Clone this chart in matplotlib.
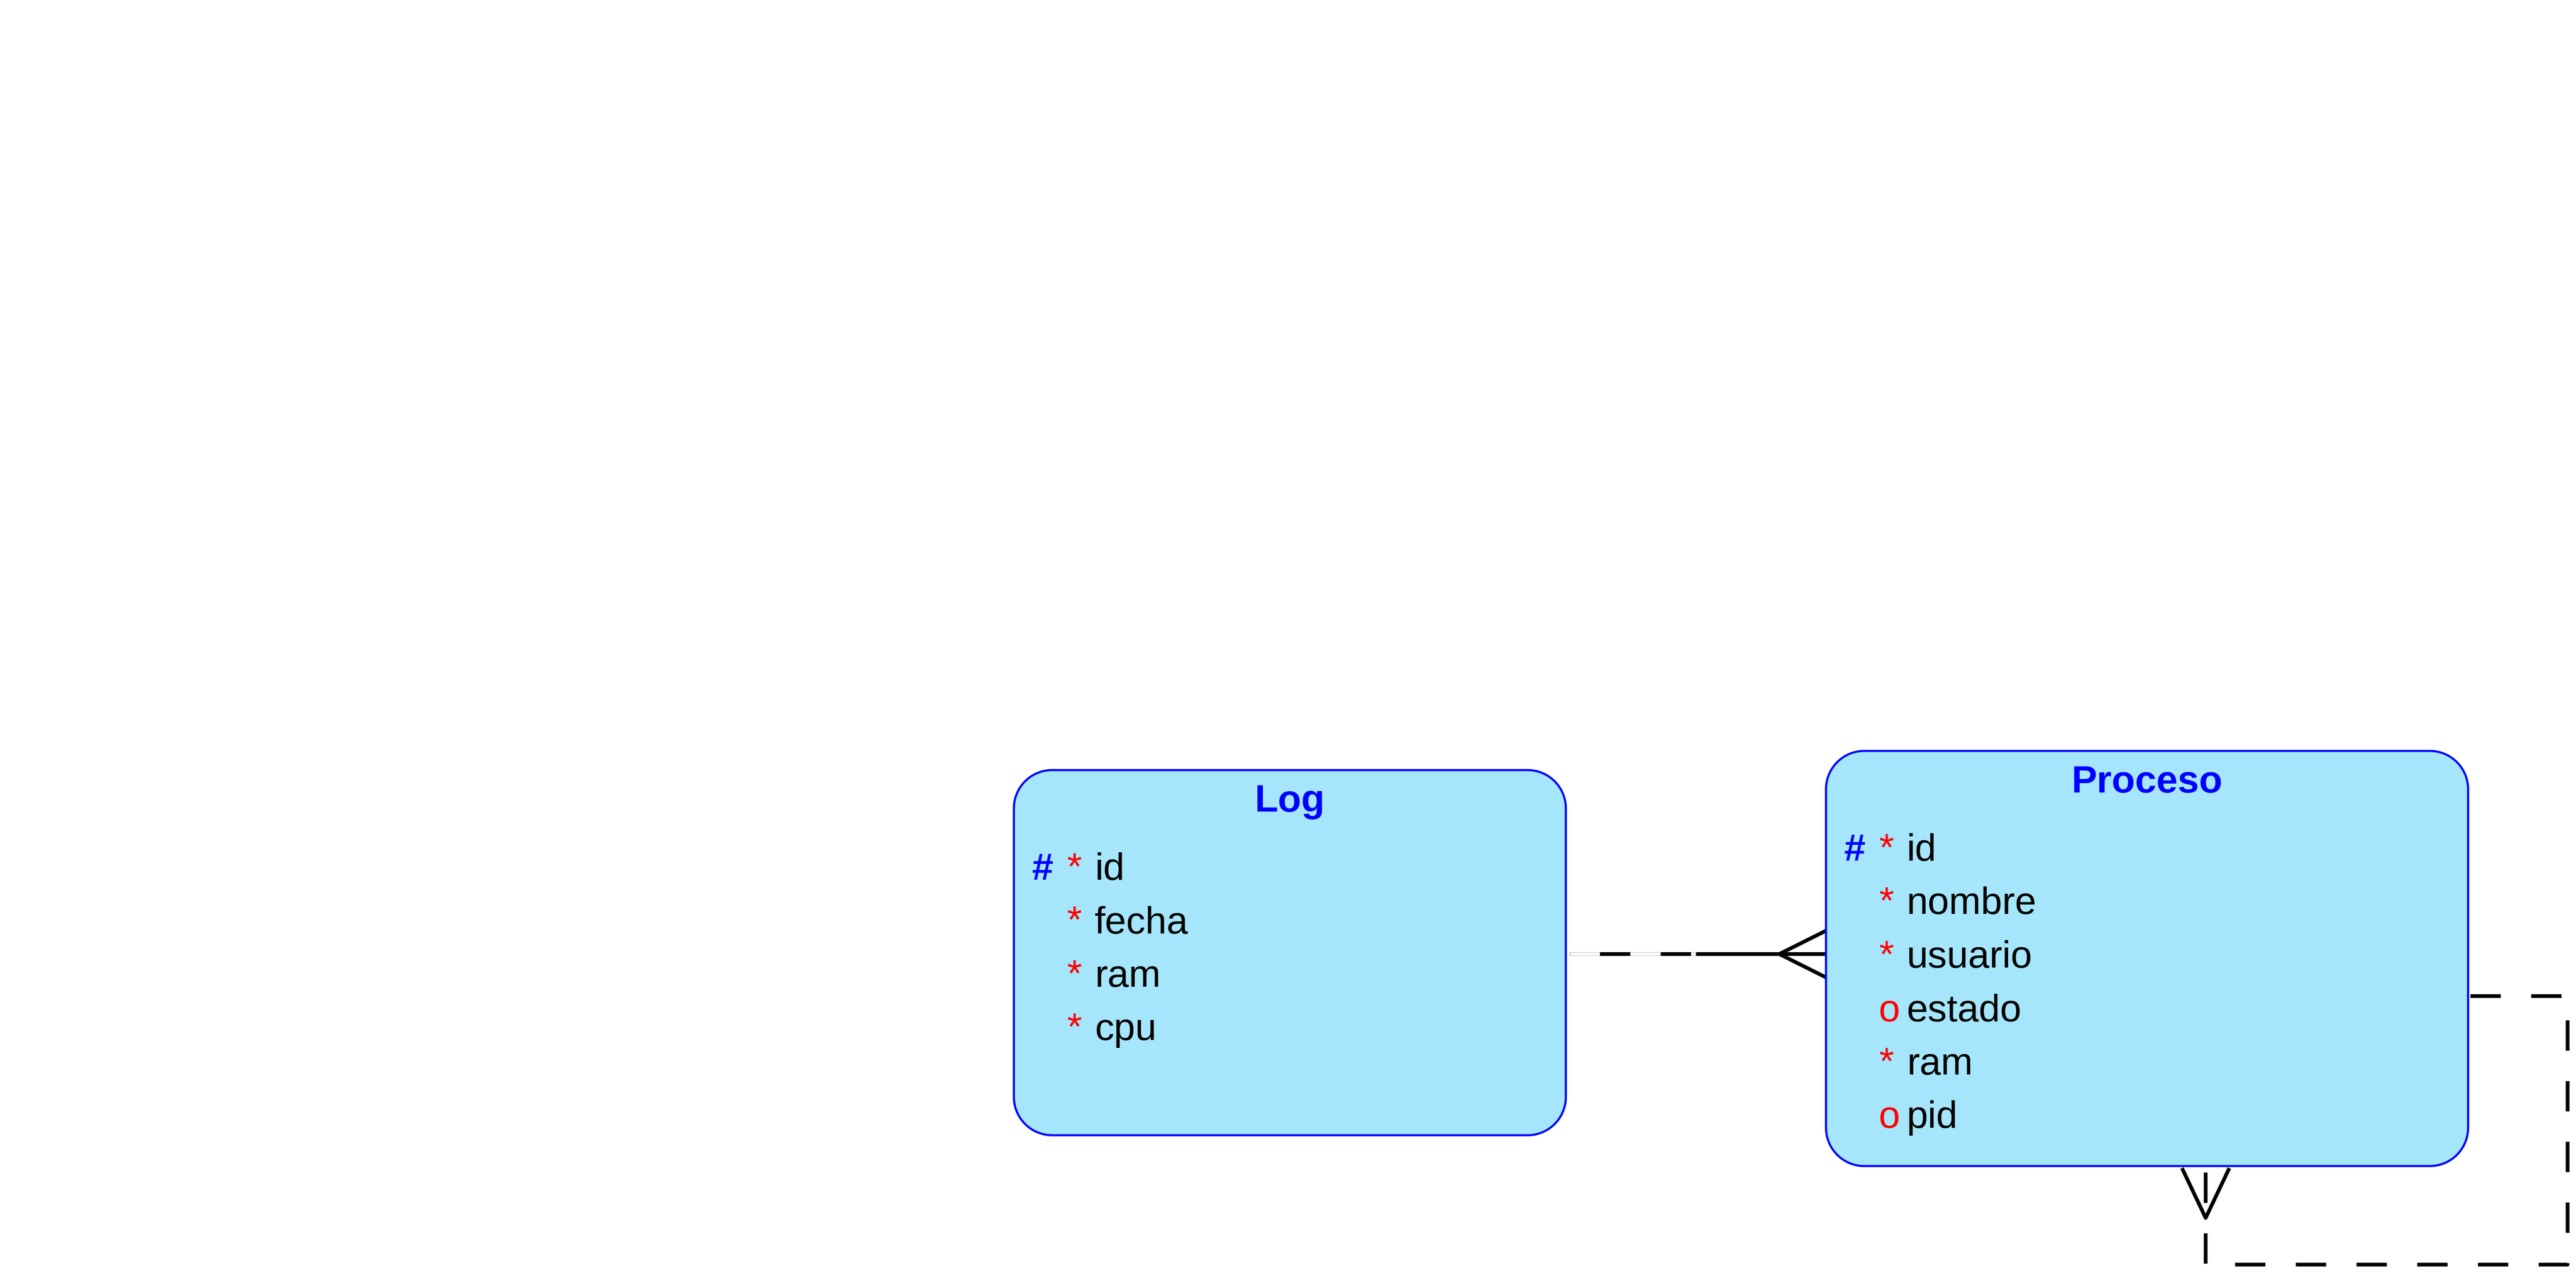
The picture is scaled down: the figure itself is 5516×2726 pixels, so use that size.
import numpy as np
import matplotlib.pyplot as plt
from matplotlib.patches import Polygon

plt.rcParams['font.family'] = ['Liberation Sans', 'DejaVu Sans']
plt.rcParams['lines.scale_dashes'] = False

# entities and their attributes
entities = ["Log", "Proceso"]
log_attrs = ["id", "fecha", "ram", "cpu"]
log_marks = ["*", "*", "*", "*"]
log_keys = [True, False, False, False]
proceso_attrs = ["id", "nombre", "usuario", "estado", "ram", "pid"]
proceso_marks = ["*", "*", "*", "o", "*", "o"]
proceso_keys = [True, False, False, False, False, False]

# layout (pixels, y down)
W, H = 5516, 2726
boxes = {
    "Log": (2171, 1649, 3353, 2431),
    "Proceso": (3910, 1608, 5285, 2497),
}
FILL = "#a5e6fc"
EDGE = "#0000ff"
FS = 59
ROW = 114.5
RAD = 82
px = 72 / 100  # pixel -> points

fig = plt.figure(figsize=(W / 100, H / 100), dpi=100)
ax = fig.add_axes([0, 0, 1, 1])
ax.set_xlim(0, W)
ax.set_ylim(H, 0)
ax.axis("off")


def rounded_rect(x0, y0, x1, y1, r):
    t = np.linspace(0, np.pi / 2, 30)
    pts = []
    # corners: top-left, top-right, bottom-right, bottom-left (y down)
    for cx, cy, a0 in [(x0 + r, y0 + r, np.pi), (x1 - r, y0 + r, 1.5 * np.pi),
                       (x1 - r, y1 - r, 0), (x0 + r, y1 - r, 0.5 * np.pi)]:
        ang = a0 + t
        pts += list(zip(cx + r * np.cos(ang), cy + r * np.sin(ang)))
    return np.array(pts)


def draw_entity(name, attrs, marks, keys):
    x0, y0, x1, y1 = boxes[name]
    box = Polygon(rounded_rect(x0, y0, x1, y1, RAD), closed=True,
                  fc=FILL, ec=EDGE, lw=4.5 * px, zorder=2)
    ax.add_patch(box)
    ax.text((x0 + x1) / 2, y0 + 89, name, color=EDGE, fontsize=FS,
            fontweight="bold", ha="center", va="baseline", zorder=3)
    for i, (a, m, k) in enumerate(zip(attrs, marks, keys)):
        yb = y0 + 235 + i * ROW
        if k:
            ax.text(x0 + 39, yb, "#", color=EDGE, fontsize=FS, fontweight="bold",
                    ha="left", va="baseline", zorder=3)
        if m == "*":
            ax.text(x0 + 114, yb - 2, "*", color="red", fontsize=FS,
                    ha="left", va="baseline", zorder=3)
        else:
            ax.text(x0 + 113, yb, "o", color="red", fontsize=FS,
                    ha="left", va="baseline", zorder=3)
        ax.text(x0 + 173, yb, a, color="black", fontsize=FS,
                ha="left", va="baseline", zorder=3)


draw_entity("Log", log_attrs, log_marks, log_keys)
draw_entity("Proceso", proceso_attrs, proceso_marks, proceso_keys)

LW = 8 * px
dash = (0, (65 * px, 65 * px))

# Log -> Proceso relation (optional half dashed, mandatory half solid)
lx1 = boxes["Log"][2]
px0 = boxes["Proceso"][0]
yc = 2043
mid = (lx1 + px0) / 2
ax.plot([lx1 + 8, mid], [yc, yc], color="#c0c0c0", lw=LW, solid_capstyle="butt", zorder=1)
ax.plot([lx1 + 10, mid - 2], [yc, yc], color="white", lw=LW - 2 * px, solid_capstyle="butt", zorder=1)
ax.plot([lx1 + 8, mid], [yc, yc], color="black", lw=LW, linestyle=(65 * px, (65 * px, 65 * px)),
        dash_capstyle="butt", zorder=1)
ax.plot([mid, px0], [yc, yc], color="black", lw=LW, solid_capstyle="butt", zorder=1)
ax.plot([px0, px0 - 100, px0], [yc - 50, yc, yc + 50], color="black", lw=LW, zorder=1)

# Proceso self relation
bx0, by0, bx1, by1 = boxes["Proceso"]
cx = 4723
path_x = [bx1 + 5, 5498, 5498, cx, cx]
path_y = [2133, 2133, 2708, 2708, by1 + 7]
ax.plot(path_x, path_y, color="black", lw=LW, linestyle=dash,
        dash_capstyle="butt", zorder=1)
ax.plot([cx - 49, cx, cx + 49], [by1 + 8, by1 + 111, by1 + 8], color="black", lw=LW, zorder=1)

fig.savefig("out.png", dpi=100, facecolor="white")
